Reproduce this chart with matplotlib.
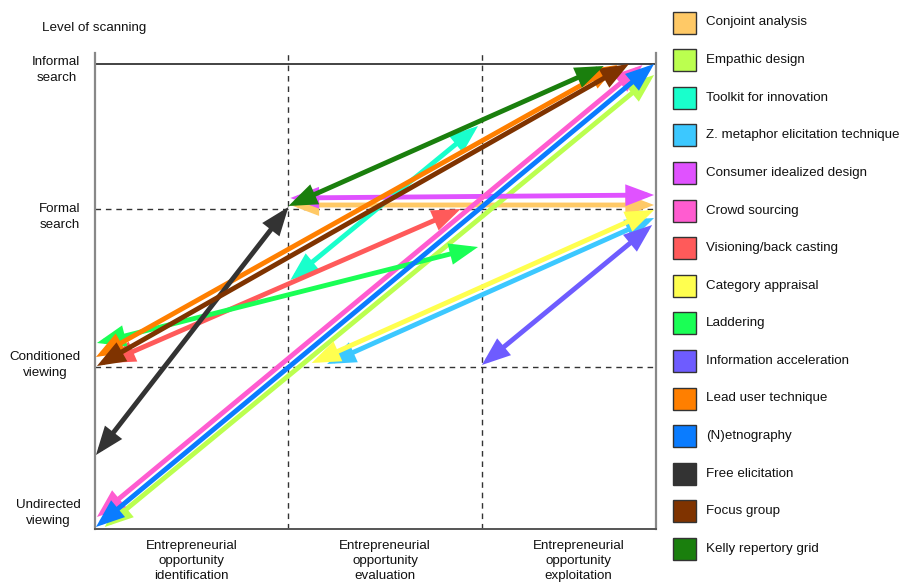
import matplotlib
matplotlib.use("Agg")
import matplotlib.pyplot as plt
from matplotlib.patches import FancyArrowPatch, Rectangle, ArrowStyle

plt.rcParams['font.family'] = ['Liberation Sans', 'DejaVu Sans']

# methods, colours and arrow ends (x in phase units, y in scanning-level units)
methods = ["Conjoint analysis", "Empathic design", "Toolkit for innovation",
           "Z. metaphor elicitation technique", "Consumer idealized design",
           "Crowd sourcing", "Visioning/back casting", "Category appraisal",
           "Laddering", "Information acceleration", "Lead user technique",
           "(N)etnography", "Free elicitation", "Focus group", "Kelly repertory grid"]
colors = ["#FFC966", "#BBFF4F", "#19FFCC", "#3CC8FF", "#E052FF",
          "#FF5CD0", "#FF5A5A", "#FFFF4F", "#1AFF55", "#6E5CFF",
          "#FF7F00", "#0A7CFF", "#333333", "#7F3300", "#1A7F0D"]
x_start = [1.01, 0.05, 1.01, 1.20, 1.01, 0.01, 0.06, 1.12, 0.01, 2.00, 0.005, 0.005, 0.005, 0.01, 1.00]
y_start = [324, 2, 249, 165, 331, 12, 166, 166, 186, 164, 172, 2, 74, 163, 323]
x_end = [2.89, 2.89, 1.98, 2.89, 2.89, 2.83, 1.89, 2.89, 1.98, 2.88, 2.70, 2.89, 1.00, 2.76, 2.63]
y_end = [324, 454, 403, 311, 334, 464, 320, 319, 282, 304, 464, 465, 322, 465, 463]

phases = ["Entrepreneurial\nopportunity\nidentification",
          "Entrepreneurial\nopportunity\nevaluation",
          "Entrepreneurial\nopportunity\nexploitation"]
levels = ["Undirected\nviewing", "Conditioned\nviewing", "Formal\nsearch", "Informal\nsearch"]
level_lines = [0, 162, 320, 465]
level_label_y = [16, 164, 312, 459]

W, H = 904, 585
fig = plt.figure(figsize=(W / 100, H / 100), dpi=100)
ax = fig.add_axes([95 / W, (H - 529) / H, (656 - 95) / W, (529 - 53) / H])
ax.set_xlim(0, 2.9)
ax.set_ylim(0, 476)
ax.set_xticks([])
ax.set_yticks([])
ax.spines['top'].set_visible(False)
for s in ['left', 'right']:
    ax.spines[s].set_color('#888888')
    ax.spines[s].set_linewidth(1.6)
ax.spines['bottom'].set_color('#555555')
ax.spines['bottom'].set_linewidth(1.4)

# phase and level guides
for xv in [1, 2]:
    ax.axvline(xv, color='#333333', lw=1, ls=(0, (4, 3.5)), zorder=1)
for yv in level_lines[1:3]:
    ax.axhline(yv, color='#333333', lw=1, ls=(0, (4, 3.5)), zorder=1)
ax.axhline(level_lines[3], color='#222222', lw=1.2, zorder=1)

style = ArrowStyle('<|-|>', head_length=1.0, head_width=0.38)
for i in range(len(methods)):
    arr = FancyArrowPatch((x_start[i], y_start[i]), (x_end[i], y_end[i]),
                          arrowstyle=style, mutation_scale=14, lw=3.5,
                          color=colors[i], shrinkA=0, shrinkB=0,
                          joinstyle='miter', capstyle='butt',
                          clip_on=False, zorder=3 + i)
    ax.add_patch(arr)

# axis texts
for i, lab in enumerate(phases):
    ax.text(i + 0.5, -11, lab, ha='center', va='top', fontsize=9.6,
            linespacing=1.36, color='#111111')
for lab, yv in zip(levels, level_label_y):
    ax.text(-0.075, yv, lab, ha='right', va='center', multialignment='center',
            fontsize=9.6, linespacing=1.45, color='#111111')
fig.text(42 / W, 1 - 28 / H, "Level of scanning", ha='left', va='center',
         fontsize=9.6, color='#111111')

# legend
for i, (name, c) in enumerate(zip(methods, colors)):
    yc = 22.5 + i * 37.6
    fig.patches.append(Rectangle((673 / W, 1 - (yc + 11) / H), 23 / W, 22 / H,
                                 transform=fig.transFigure, facecolor=c,
                                 edgecolor='#333333', lw=1.0))
    fig.text(706 / W, 1 - yc / H, name, ha='left', va='center',
             fontsize=9.6, color='#111111')

fig.savefig("out.png", dpi=100)
